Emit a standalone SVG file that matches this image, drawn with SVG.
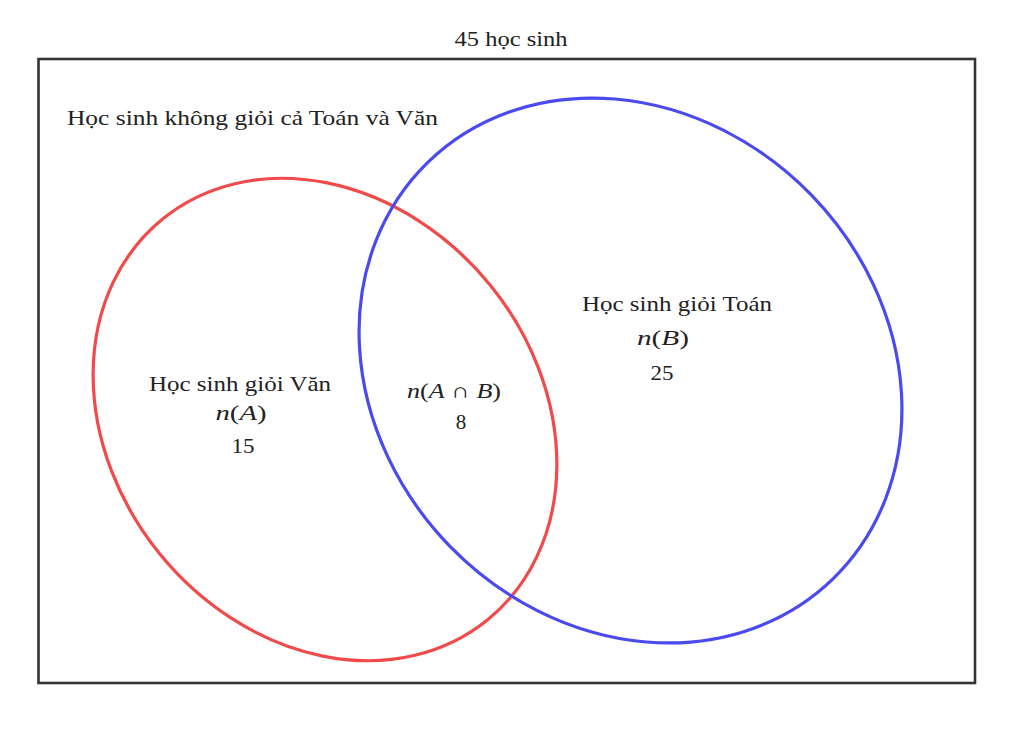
<svg xmlns="http://www.w3.org/2000/svg" width="1024" height="746" viewBox="0 0 1024 746">
<style>
text{font-family:"Liberation Serif","DejaVu Serif",serif;font-size:21px;fill:#222;}
.m{text-anchor:middle;}
.i{font-style:italic;}
.set{fill:none;stroke-width:3.2;}
</style>
<rect width="1024" height="746" fill="#fff"/>
<g id="universe">
<rect x="38.5" y="59" width="936.5" height="624" fill="none" stroke="#333" stroke-width="2.6"/>
<text x="511" y="46" class="m" textLength="113" lengthAdjust="spacingAndGlyphs">45 học sinh</text>
<text x="67" y="125" textLength="371" lengthAdjust="spacingAndGlyphs">Học sinh không giỏi cả Toán và Văn</text>
</g>
<g id="setA">
<ellipse class="set" cx="325" cy="419.5" rx="258" ry="213" transform="rotate(51 325 419.5)" stroke="#f04a4a"/>
<text x="240" y="391" class="m" textLength="182" lengthAdjust="spacingAndGlyphs">Học sinh giỏi Văn</text>
<text x="241" y="420" class="m" textLength="51" lengthAdjust="spacingAndGlyphs"><tspan class="i">n</tspan>(<tspan class="i">A</tspan>)</text>
<text x="243" y="453" class="m" textLength="23" lengthAdjust="spacingAndGlyphs">15</text>
</g>
<g id="setB">
<ellipse class="set" cx="630.5" cy="370.5" rx="290.5" ry="252" transform="rotate(45.75 630.5 370.5)" stroke="#4a4af0"/>
<text x="677" y="311" class="m" textLength="190" lengthAdjust="spacingAndGlyphs">Học sinh giỏi Toán</text>
<text x="663" y="345" class="m" textLength="52" lengthAdjust="spacingAndGlyphs"><tspan class="i">n</tspan>(<tspan class="i">B</tspan>)</text>
<text x="662" y="380" class="m" textLength="23" lengthAdjust="spacingAndGlyphs">25</text>
</g>
<g id="intersection">
<text x="454" y="398" class="m" textLength="94" lengthAdjust="spacingAndGlyphs"><tspan class="i">n</tspan>(<tspan class="i">A</tspan> ∩ <tspan class="i">B</tspan>)</text>
<text x="461" y="429" class="m">8</text>
</g>
<g id="connectors"></g>
</svg>
